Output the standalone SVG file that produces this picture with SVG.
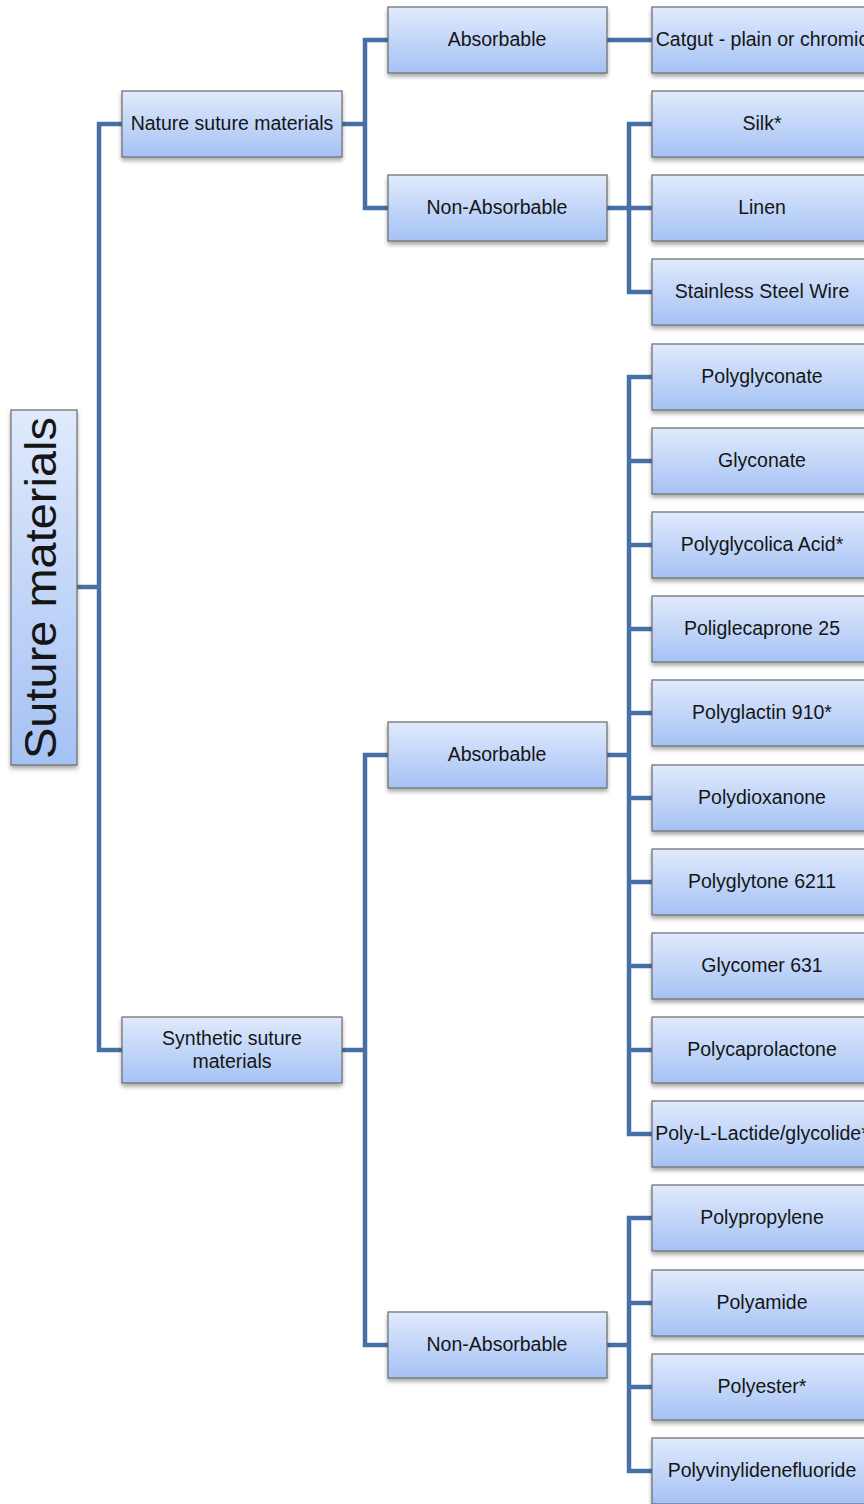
<svg xmlns="http://www.w3.org/2000/svg" width="864" height="1504" viewBox="0 0 864 1504">
<defs>
<linearGradient id="g" x1="0" y1="0" x2="0" y2="1">
<stop offset="0" stop-color="#e0eafc"/>
<stop offset="1" stop-color="#a5c2f4"/>
</linearGradient>
<filter id="sh" x="-10%" y="-20%" width="120%" height="150%">
<feDropShadow dx="0" dy="3" stdDeviation="2" flood-color="#000" flood-opacity="0.35"/>
</filter>
</defs>
<style>
.box{fill:url(#g);stroke:#6a6a6a;stroke-width:1.2;filter:url(#sh)}
.t{font-family:"Liberation Sans",Arial,sans-serif;font-size:19.5px;fill:#151515;text-anchor:middle}
.c{fill:none;stroke:#4670a6;stroke-width:4.5;stroke-linejoin:miter;stroke-linecap:butt}
</style>
<rect width="864" height="1504" fill="#fff"/>
<g id="connectors">
<path class="c" d="M77 587H99M122 124H99V1050H122"/>
<path class="c" d="M342 124H365M388 40H365V208H388"/>
<path class="c" d="M607 40H652"/>
<path class="c" d="M607 208H629M652 124H629V292H652M629 208H652"/>
<path class="c" d="M342 1050H365M388 755H365V1345H388"/>
<path class="c" d="M607 755H629M652 377H629V1134H652M629 461H652M629 545H652M629 629H652M629 713H652M629 798H652M629 882H652M629 966H652M629 1050H652"/>
<path class="c" d="M607 1345H629M652 1218H629V1471H652M629 1303H652M629 1387H652"/>
</g>
<g id="root">
<rect class="box" x="11" y="410" width="66" height="355"/>
<text transform="translate(56,588) rotate(-90)" x="0" y="0" font-family="Liberation Sans, Arial, sans-serif" font-size="44" fill="#151515" text-anchor="middle" textLength="342" lengthAdjust="spacingAndGlyphs">Suture materials</text>
</g>
<g id="nature">
<rect class="box" x="122" y="91" width="220" height="66"/>
<text class="t" x="232" y="130">Nature suture materials</text>
</g>
<g id="synthetic">
<rect class="box" x="122" y="1017" width="220" height="66"/>
<text class="t" x="232" y="1045">Synthetic suture</text>
<text class="t" x="232" y="1068">materials</text>
</g>
<g id="nat-abs">
<rect class="box" x="388" y="7" width="219" height="66"/>
<text class="t" x="497" y="46">Absorbable</text>
</g>
<g id="nat-nonabs">
<rect class="box" x="388" y="175" width="219" height="66"/>
<text class="t" x="497" y="214">Non-Absorbable</text>
</g>
<g id="syn-abs">
<rect class="box" x="388" y="722" width="219" height="66"/>
<text class="t" x="497" y="761">Absorbable</text>
</g>
<g id="syn-nonabs">
<rect class="box" x="388" y="1312" width="219" height="66"/>
<text class="t" x="497" y="1351">Non-Absorbable</text>
</g>
<g id="leaf-catgut"><rect class="box" x="652" y="7" width="220" height="66"/><text class="t" x="762" y="46">Catgut - plain or chromic</text></g>
<g id="leaf-silk"><rect class="box" x="652" y="91" width="220" height="66"/><text class="t" x="762" y="130">Silk*</text></g>
<g id="leaf-linen"><rect class="box" x="652" y="175" width="220" height="66"/><text class="t" x="762" y="214">Linen</text></g>
<g id="leaf-steel"><rect class="box" x="652" y="259" width="220" height="66"/><text class="t" x="762" y="298">Stainless Steel Wire</text></g>
<g id="leaf-polyglyconate"><rect class="box" x="652" y="344" width="220" height="66"/><text class="t" x="762" y="383">Polyglyconate</text></g>
<g id="leaf-glyconate"><rect class="box" x="652" y="428" width="220" height="66"/><text class="t" x="762" y="467">Glyconate</text></g>
<g id="leaf-pga"><rect class="box" x="652" y="512" width="220" height="66"/><text class="t" x="762" y="551">Polyglycolica Acid*</text></g>
<g id="leaf-poliglecaprone"><rect class="box" x="652" y="596" width="220" height="66"/><text class="t" x="762" y="635">Poliglecaprone 25</text></g>
<g id="leaf-polyglactin"><rect class="box" x="652" y="680" width="220" height="66"/><text class="t" x="762" y="719">Polyglactin 910*</text></g>
<g id="leaf-polydioxanone"><rect class="box" x="652" y="765" width="220" height="66"/><text class="t" x="762" y="804">Polydioxanone</text></g>
<g id="leaf-polyglytone"><rect class="box" x="652" y="849" width="220" height="66"/><text class="t" x="762" y="888">Polyglytone 6211</text></g>
<g id="leaf-glycomer"><rect class="box" x="652" y="933" width="220" height="66"/><text class="t" x="762" y="972">Glycomer 631</text></g>
<g id="leaf-polycaprolactone"><rect class="box" x="652" y="1017" width="220" height="66"/><text class="t" x="762" y="1056">Polycaprolactone</text></g>
<g id="leaf-plla"><rect class="box" x="652" y="1101" width="220" height="66"/><text class="t" x="762" y="1140">Poly-L-Lactide/glycolide*</text></g>
<g id="leaf-polypropylene"><rect class="box" x="652" y="1185" width="220" height="66"/><text class="t" x="762" y="1224">Polypropylene</text></g>
<g id="leaf-polyamide"><rect class="box" x="652" y="1270" width="220" height="66"/><text class="t" x="762" y="1309">Polyamide</text></g>
<g id="leaf-polyester"><rect class="box" x="652" y="1354" width="220" height="66"/><text class="t" x="762" y="1393">Polyester*</text></g>
<g id="leaf-pvdf"><rect class="box" x="652" y="1438" width="220" height="66"/><text class="t" x="762" y="1477">Polyvinylidenefluoride</text></g>
</svg>
